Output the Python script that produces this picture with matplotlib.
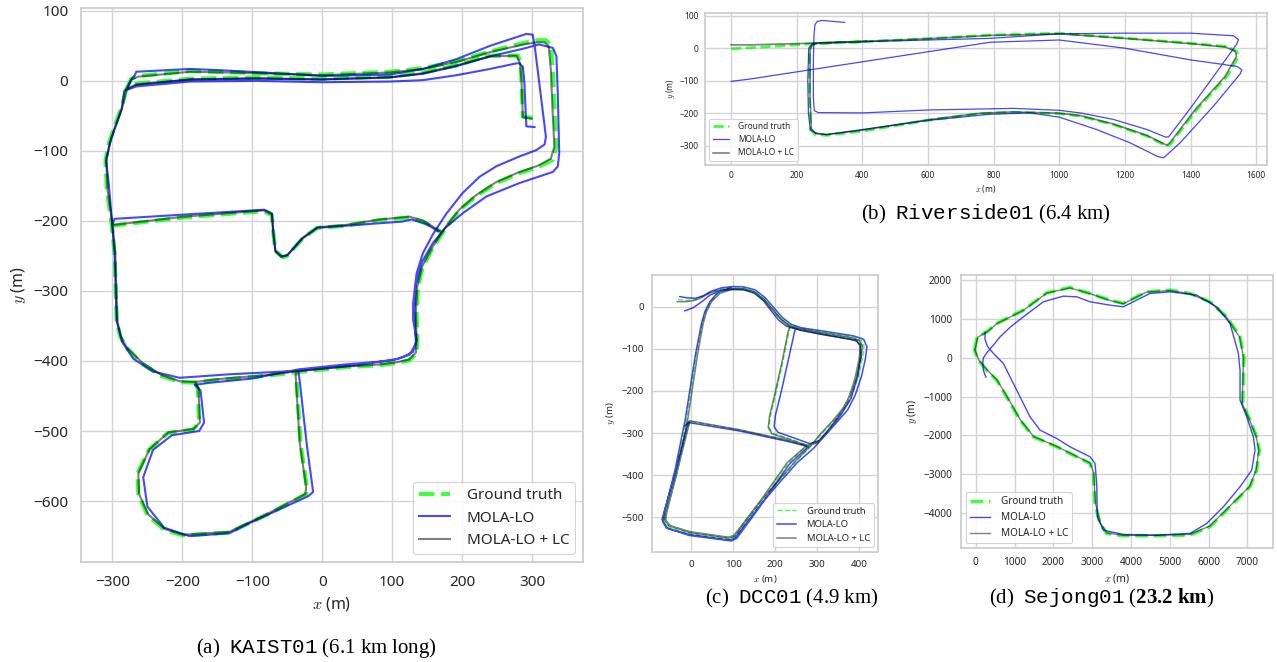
import numpy as np
import matplotlib
matplotlib.use("Agg")
import matplotlib.pyplot as plt
from matplotlib.lines import Line2D

plt.rcParams.update({
    "font.family": ["Noto Sans", "DejaVu Sans"],
    "mathtext.fontset": "cm",
    "mathtext.rm": "Liberation Serif",
    "mathtext.it": "Liberation Serif:italic",
    "mathtext.bf": "Liberation Serif:bold",
    "mathtext.tt": "Liberation Mono",
    "axes.edgecolor": "#cccccc",
    "axes.linewidth": 1.25,
    "grid.color": "#d4d4d4",
    "grid.linewidth": 1.0,
    "text.color": "#262626",
    "xtick.color": "#262626",
    "ytick.color": "#262626",
    "axes.labelcolor": "#262626",
    "xtick.major.size": 0,
    "ytick.major.size": 0,
})

LABELS = ["Ground truth", "MOLA-LO", "MOLA-LO + LC"]

# ---------------- KAIST01 (x, y in metres) ----------------
gt_a_top_low = [(301, -53), (287, -51), (285, 0), (284, 25), (280, 36), (240, 36), (192, 22), (144, 12),
                (97, 6), (0, 3), (-94, 5), (-189, 3), (-266, -4), (-280, -11)]
gt_a_top_high = [(-280, -11), (-273, 3), (-263, 7), (-189, 14), (-94, 11), (0, 9), (97, 13), (144, 18),
                 (192, 28), (240, 42), (288, 54), (307, 58), (320, 58), (327, 51), (330, 16), (332, -32),
                 (335, -94), (330, -113), (311, -122), (282, -132), (249, -146), (220, -165), (197, -184),
                 (178, -208), (159, -237), (144, -265), (137, -294), (135, -332), (136, -370), (135, -389),
                 (125, -399), (106, -403), (82, -406), (32, -409), (-37, -416), (-78, -421), (-150, -427),
                 (-182, -431)]
gt_a_left = [(-280, -11), (-286, -35), (-297, -65), (-305, -89), (-310, -113), (-308, -156), (-302, -198),
             (-300, -215), (-297, -246), (-294, -343), (-289, -365), (-281, -380), (-259, -403),
             (-231, -421), (-204, -430), (-182, -431)]
gt_a_middle = [(-302, -207), (-198, -195), (-83, -186), (-72, -192), (-70, -216), (-67, -243), (-56, -252),
               (-50, -250), (-28, -225), (-7, -210), (32, -207), (82, -199), (125, -195), (144, -201),
               (172, -217)]
gt_a_loop = [(-182, -431), (-178, -439), (-176, -488), (-185, -498), (-221, -503), (-248, -527),
             (-264, -560), (-263, -590), (-250, -620), (-226, -641), (-199, -649), (-133, -645),
             (-78, -619), (-23, -590), (-22, -580), (-31, -518), (-37, -421), (-37, -416)]

lo_a_top_low = [(304, -66), (292, -65), (289, 0), (287, 20), (282, 25), (278, 25), (240, 17), (192, 8),
                (144, 1), (97, -1), (0, -2), (-94, 0), (-189, -1), (-266, -8), (-280, -13)]
lo_a_top_high = [(-280, -13), (-273, 2), (-268, 8), (-266, 13), (-189, 17), (-142, 15), (-50, 10), (1, 7),
                 (97, 9), (144, 17), (192, 31), (240, 50), (292, 67), (301, 66), (304, 49), (311, -8),
                 (320, -80), (318, -91), (306, -99), (282, -108), (249, -122), (225, -137), (201, -160),
                 (178, -189), (159, -218), (144, -246), (135, -275), (130, -318), (130, -341), (135, -370),
                 (130, -387), (116, -394), (101, -399), (82, -401), (32, -405), (-34, -412), (-100, -425),
                 (-160, -431), (-182, -434)]
lo_a_left = [(-280, -13), (-283, -14), (-287, -41), (-302, -83), (-309, -113), (-305, -150), (-301, -198),
             (-297, -246), (-294, -343), (-286, -373), (-270, -397), (-242, -415), (-204, -424),
             (-133, -419), (-34, -414), (50, -406), (108, -397), (125, -391), (134, -375), (132, -330),
             (134, -290), (143, -258), (158, -232), (176, -210), (201, -189), (235, -165), (282, -146),
             (330, -130), (337, -122), (339, -103), (337, -20), (335, 35), (330, 47), (310, 52), (288, 46),
             (240, 35), (192, 21), (144, 10), (97, 5), (0, 2), (-94, 3), (-189, 2), (-266, -6), (-280, -13)]
lo_a_middle = [(-300, -205), (-297, -197), (-83, -184), (-72, -189), (-70, -216), (-67, -243), (-59, -251),
               (-50, -249), (-28, -225), (-7, -210), (32, -207), (114, -201), (128, -198), (150, -205),
               (166, -215)]
lo_a_loop = [(-182, -434), (-174, -442), (-169, -488), (-176, -500), (-215, -506), (-242, -527),
             (-256, -566), (-250, -608), (-226, -638), (-190, -650), (-133, -646), (-105, -632),
             (-20, -593), (-13, -587), (-22, -520), (-32, -430), (-34, -414)]

lc_a_top_low = [(300, -54), (287, -52), (285, 0), (283, 25), (278, 36), (240, 35), (192, 22), (144, 11),
                (97, 5), (0, 2), (-94, 4), (-189, 2), (-266, -5), (-280, -12)]
lc_a_top_high = [(-280, -12), (-273, 2), (-263, 6), (-189, 13), (-94, 11), (0, 8), (97, 12), (144, 17),
                 (192, 27), (240, 41), (288, 52), (307, 55), (318, 55), (324, 49), (327, 16), (329, -32),
                 (332, -94), (327, -111), (309, -121), (280, -131), (248, -145), (219, -164), (196, -184),
                 (177, -208), (158, -237), (143, -265), (136, -294), (134, -332), (135, -370), (134, -388),
                 (124, -398), (106, -402), (82, -405), (32, -408), (-37, -415), (-78, -420), (-150, -426),
                 (-182, -430)]
lc_a_left = [(-280, -12), (-285, -35), (-296, -65), (-304, -89), (-309, -113), (-307, -156), (-301, -198),
             (-299, -215), (-296, -246), (-293, -343), (-288, -365), (-280, -380), (-258, -402),
             (-230, -420), (-204, -429), (-182, -430)]
lc_a_middle = [(-301, -206), (-198, -194), (-83, -185), (-72, -191), (-70, -216), (-67, -243), (-57, -251),
               (-50, -249), (-28, -224), (-7, -209), (32, -206), (82, -198), (125, -194), (145, -200),
               (171, -216)]
lc_a_loop = [(-182, -430), (-177, -439), (-175, -488), (-184, -497), (-220, -502), (-247, -526),
             (-263, -560), (-262, -590), (-249, -619), (-225, -640), (-199, -648), (-133, -644),
             (-78, -618), (-24, -590), (-23, -580), (-32, -518), (-38, -421), (-37, -415)]

# ---------------- Riverside01 ----------------
gt_b = [(0, -2), (109, 4), (241, 13), (413, 20), (600, 29), (789, 40), (1000, 46), (1199, 31), (1399, 15),
        (1511, 5), (1541, -10), (1546, -25), (1511, -87), (1419, -189), (1338, -296), (1328, -301),
        (1267, -270), (1165, -235), (1064, -209), (1000, -201), (861, -197), (759, -201), (600, -222),
        (400, -255), (291, -268), (256, -265), (243, -250), (239, -150), (239, -5), (246, 10), (261, 15),
        (413, 20)]
lo_b = [(0, -102), (58, -95), (413, -40), (789, 18), (1000, 25), (1199, 0), (1399, -36), (1541, -56),
        (1556, -66), (1552, -78), (1470, -178), (1368, -291), (1318, -337), (1300, -333), (1216, -291),
        (1114, -250), (1000, -212), (912, -199), (789, -203), (600, -222), (400, -250), (291, -266),
        (262, -262), (242, -252), (236, -200), (234, -100), (237, 0), (248, 13), (270, 16), (413, 20),
        (789, 30), (1000, 44), (1199, 46), (1399, 46), (1531, 38), (1546, 26), (1541, 13), (1470, -87),
        (1389, -199), (1333, -273), (1323, -273), (1267, -250), (1165, -219), (1064, -199), (1000, -191),
        (861, -185), (759, -187), (600, -190), (400, -199), (266, -198), (254, -192), (251, -150),
        (251, -50), (253, 40), (256, 72), (263, 82), (278, 85), (347, 79)]
lc_b = [(0, 10), (58, 10), (241, 15), (413, 21), (600, 29), (789, 39), (1000, 44), (1199, 30), (1399, 14),
        (1508, 3), (1536, -10), (1540, -25), (1505, -87), (1414, -189), (1336, -292), (1327, -298),
        (1267, -268), (1165, -233), (1064, -207), (1000, -200), (861, -196), (759, -200), (600, -220),
        (400, -252), (291, -265), (258, -262), (245, -248), (241, -150), (241, -5), (248, 10), (263, 15),
        (413, 21)]

# ---------------- DCC01 ----------------
gt_c_outer = [(-32, 17), (-12, 15), (8, 17), (25, 24), (45, 35), (70, 42), (100, 45), (125, 44), (150, 37),
              (172, 20), (192, -3), (212, -27), (232, -42), (255, -50), (313, -60), (380, -71), (403, -78),
              (411, -92), (408, -120), (399, -160), (384, -205), (366, -240), (338, -272), (312, -300),
              (286, -330), (250, -366), (210, -412), (165, -463), (125, -515), (103, -545), (90, -550),
              (-3, -537), (-52, -523), (-64, -509), (-62, -490), (-36, -388), (-12, -270), (12, -112),
              (26, -40), (34, -12), (46, 12), (65, 33), (95, 43)]
gt_c_inner = [(95, 43), (125, 43), (152, 35), (175, 15), (195, -8), (215, -30), (236, -46), (232, -60),
              (218, -130), (200, -210), (188, -260), (185, -287), (194, -300), (230, -312), (275, -328),
              (300, -322), (325, -295), (350, -262), (376, -222), (393, -170), (404, -120), (406, -92),
              (398, -80), (380, -75), (313, -64), (258, -53), (240, -48)]
gt_c_cross = [(-14, -280), (-5, -272), (115, -293), (230, -318), (275, -330)]
gt_c_south = [(-5, -272), (-10, -290), (-38, -400), (-67, -505), (-57, -522), (-5, -540), (92, -553),
              (105, -548), (160, -473), (230, -372), (275, -330)]

lo_c_outer = [(-28, 24), (-10, 21), (10, 20), (28, 26), (48, 37), (72, 45), (100, 48), (125, 47), (152, 40),
              (175, 22), (196, -2), (217, -26), (238, -42), (262, -50), (315, -58), (385, -69), (410, -77),
              (418, -95), (414, -125), (405, -165), (390, -210), (372, -245), (344, -277), (318, -306),
              (290, -337), (252, -370), (212, -415), (167, -467), (127, -519), (103, -550), (90, -554),
              (-3, -541), (-55, -527), (-67, -512), (-65, -490), (-39, -388), (-15, -270), (10, -112),
              (24, -40), (32, -12), (44, 12), (63, 34), (95, 46)]
lo_c_inner = [(-16, -10), (5, -2), (25, 12), (45, 28), (70, 38), (100, 41), (125, 40), (150, 32), (172, 14),
              (190, -10), (208, -32), (226, -46), (248, -52), (245, -62), (230, -130), (212, -210),
              (200, -258), (197, -285), (206, -298), (240, -310), (282, -325), (305, -318), (330, -290),
              (355, -258), (380, -218), (396, -165), (403, -118), (402, -90), (392, -80), (375, -77),
              (313, -66), (260, -56), (248, -52)]
lo_c_cross = [(-16, -283), (-6, -275), (115, -295), (230, -320), (278, -332)]
lo_c_south = [(-6, -275), (-12, -290), (-40, -400), (-70, -505), (-60, -525), (-5, -543), (95, -556),
              (108, -550), (163, -475), (233, -374), (278, -332)]

lc_c_outer = [(-34, 12), (-12, 12), (8, 15), (25, 22), (45, 33), (70, 40), (100, 43), (125, 42), (150, 35),
              (172, 18), (192, -5), (212, -29), (232, -44), (255, -52), (313, -62), (380, -73), (400, -80),
              (407, -93), (404, -120), (395, -160), (380, -205), (362, -240), (335, -272), (309, -300),
              (284, -330), (248, -366), (208, -412), (163, -463), (123, -515), (101, -543), (88, -547),
              (-3, -534), (-50, -520), (-61, -507), (-59, -490), (-33, -388), (-9, -270), (15, -112),
              (28, -40), (36, -12), (48, 12), (67, 31), (95, 41)]
lc_c_inner = [(95, 41), (125, 41), (152, 33), (175, 13), (195, -10), (215, -32), (234, -48), (230, -60),
              (216, -130), (198, -210), (186, -260), (183, -287), (192, -302), (230, -314), (275, -330),
              (298, -324), (322, -297), (347, -264), (372, -224), (389, -172), (400, -120), (402, -94),
              (394, -82), (378, -77), (313, -66), (258, -55), (238, -50)]
lc_c_cross = [(-12, -278), (-3, -271), (115, -292), (230, -317), (275, -329)]
lc_c_south = [(-3, -271), (-8, -290), (-36, -400), (-64, -503), (-54, -519), (-3, -536), (90, -549),
              (102, -545), (157, -471), (228, -370), (275, -329)]

# ---------------- Sejong01 ----------------
gt_d = [(-34, 198), (43, 542), (284, 671), (541, 886), (1229, 1231), (1830, 1678), (2431, 1816),
        (2947, 1661), (3462, 1489), (3806, 1403), (4149, 1575), (4407, 1704), (5009, 1747), (5524, 1661),
        (6040, 1446), (6469, 1059), (6813, 542), (6916, 9), (6899, -577), (6881, -1179), (7070, -1609),
        (7242, -2040), (7311, -2384), (7242, -2900), (7070, -3330), (6727, -3674), (6383, -4019),
        (6040, -4363), (5524, -4578), (4665, -4596), (3806, -4596), (3376, -4535), (3204, -4277),
        (3075, -3761), (3032, -2986), (2947, -2728), (2603, -2556), (2087, -2298), (1486, -2040),
        (1143, -1609), (799, -1007), (541, -577), (284, -318), (69, -60), (-34, 198)]
lo_d = [(267, -508), (230, -420), (198, -318), (180, -150), (200, 0), (300, 150), (450, 320), (628, 542),
        (900, 800), (1229, 1059), (1744, 1446), (2259, 1592), (2603, 1575), (2947, 1446), (3462, 1360),
        (3806, 1317), (4149, 1489), (4493, 1661), (5009, 1704), (5696, 1618), (6211, 1317), (6555, 886),
        (6770, 112), (6813, -318), (6813, -1093), (6985, -1523), (7157, -2040), (7200, -2384),
        (7114, -2900), (6813, -3330), (6383, -3847), (5954, -4277), (5524, -4535), (4665, -4578),
        (3806, -4561), (3290, -4449), (3135, -4105), (3118, -3244), (3075, -2728), (2947, -2556),
        (2431, -2298), (2087, -2083), (1658, -1867), (1400, -1523), (1057, -835), (713, -146), (450, 120),
        (300, 300), (240, 480), (241, 671)]
lc_d = [(-20, 198), (50, 530), (290, 665), (545, 880), (1229, 1225), (1830, 1670), (2431, 1805),
        (2947, 1655), (3462, 1480), (3806, 1395), (4149, 1570), (4407, 1698), (5009, 1738), (5524, 1652),
        (6040, 1436), (6460, 1052), (6800, 540), (6902, 9), (6886, -577), (6870, -1179), (7058, -1609),
        (7230, -2040), (7296, -2384), (7228, -2900), (7058, -3322), (6716, -3664), (6374, -4005),
        (6030, -4345), (5520, -4560), (4665, -4585), (3806, -4585), (3380, -4522), (3212, -4268),
        (3085, -3755), (3042, -2980), (2950, -2718), (2603, -2546), (2087, -2288), (1490, -2030),
        (1150, -1600), (806, -1000), (548, -570), (290, -312), (80, -60), (-20, 198)]


def as_xy(strokes):
    xs, ys = [], []
    for s in strokes:
        a = np.asarray(s, dtype=float)
        xs.extend(a[:, 0]); ys.extend(a[:, 1])
        xs.append(np.nan); ys.append(np.nan)
    return np.array(xs), np.array(ys)


GT_COLOR = (0.0, 1.0, 0.0, 0.75)
LO_COLOR = (0.0, 0.0, 1.0, 0.72)
LC_COLOR = (0.0, 0.0, 0.0, 0.5)

W, H = 1277, 662
fig = plt.figure(figsize=(W / 100, H / 100), dpi=100)


def panel(px, gt, lo, lc, xlim, ylim, xticks, yticks, fs_tick, fs_label, fs_leg, loc, widths,
          pad, labelpad, textpad=0.8):
    x0, y0, x1, y1 = px
    ax = fig.add_axes([x0 / W, 1 - y1 / H, (x1 - x0) / W, (y1 - y0) / H])
    ax.set_facecolor("white")
    ax.grid(True, zorder=0)
    ax.set_axisbelow(True)
    lw_gt, lw_lo, lw_lc = widths
    style = [(gt, GT_COLOR, lw_gt, "--", 2), (lo, LO_COLOR, lw_lo, "-", 3), (lc, LC_COLOR, lw_lc, "-", 4)]
    handles = []
    for strokes, col, lw, ls, z in style:
        x, y = as_xy(strokes)
        ax.plot(x, y, color=col, lw=lw, ls=ls, zorder=z, solid_capstyle="round")
        handles.append(Line2D([], [], color=col, lw=lw, ls=ls))
    ax.set_xlim(*xlim)
    ax.set_ylim(*ylim)
    ax.set_xticks(xticks)
    ax.set_yticks(yticks)
    ax.tick_params(labelsize=fs_tick, pad=pad)
    ax.set_xlabel(r"$x$ (m)", fontsize=fs_label, labelpad=labelpad)
    ax.set_ylabel(r"$y$ (m)", fontsize=fs_label, labelpad=labelpad)
    leg = ax.legend(handles, LABELS, loc=loc, fontsize=fs_leg, frameon=True, fancybox=True,
                    framealpha=0.85, edgecolor="#cccccc", handletextpad=textpad)
    leg.get_frame().set_linewidth(0.8)
    for sp in ax.spines.values():
        sp.set_color("#cccccc")
    return ax


panel((81, 8, 583, 562),
      [gt_a_top_low, gt_a_top_high, gt_a_left, gt_a_middle, gt_a_loop],
      [lo_a_top_low, lo_a_top_high, lo_a_left, lo_a_middle, lo_a_loop],
      [lc_a_top_low, lc_a_top_high, lc_a_left, lc_a_middle, lc_a_loop],
      (-345, 373), (-687, 104), np.arange(-300, 301, 100), np.arange(-600, 101, 100),
      11, 11.5, 11, "lower right", (3.0, 1.5, 1.5), 9, 4, 1.1)

panel((705, 13.3, 1266.7, 165),
      [gt_b], [lo_b], [lc_b],
      (-79, 1632), (-359, 107), np.arange(0, 1601, 200), np.arange(-300, 101, 100),
      6, 6, 6, "lower left", (2.0, 0.9, 1.2), 4.5, 2, 1.1)

panel((652.3, 274.7, 878.3, 551.7),
      [gt_c_outer, gt_c_inner, gt_c_cross, gt_c_south],
      [lo_c_outer, lo_c_inner, lo_c_cross, lo_c_south],
      [lc_c_outer, lc_c_inner, lc_c_cross, lc_c_south],
      (-93, 445), (-581.5, 76), np.arange(0, 401, 100), np.arange(-500, 1, 100),
      7, 7, 6.8, "lower right", (1.0, 1.1, 1.1), 6, 3, 1.1)

panel((961, 275, 1273.3, 548.3),
      [gt_d], [lo_d], [lc_d],
      (-379, 7670), (-4919, 2138), np.arange(0, 7001, 1000), np.arange(-4000, 2001, 1000),
      7.3, 7.5, 7.2, "lower left", (2.5, 1.0, 1.0), 6.5, 3, 1.1)

captions = [
    (316, 648, r"$\mathrm{(a)}\ \ \mathtt{KAIST01}\ \mathrm{(6.1\ km\ long)}$"),
    (986, 214, r"$\mathrm{(b)}\ \ \mathtt{Riverside01}\ \mathrm{(6.4\ km)}$"),
    (792, 598, r"$\mathrm{(c)}\ \ \mathtt{DCC01}\ \mathrm{(4.9\ km)}$"),
    (1102, 598, r"$\mathrm{(d)}\ \ \mathtt{Sejong01}\ \mathrm{(}\mathbf{23.2\ km}\mathrm{)}$"),
]
for cx, cy, txt in captions:
    fig.text(cx / W, 1 - cy / H, txt, ha="center", va="center", fontsize=15,
             color="black", math_fontfamily="custom")

fig.savefig("out.png", dpi=100, facecolor="white")
